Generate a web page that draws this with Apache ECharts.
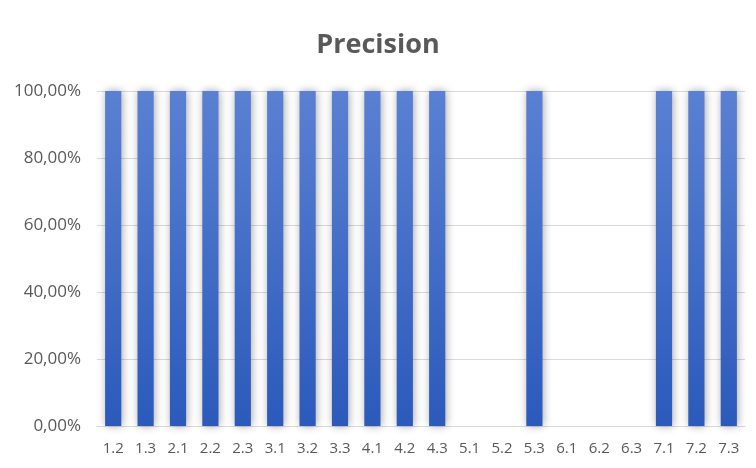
<!DOCTYPE html>
<html>
<head>
<meta charset="utf-8">
<script src="https://cdn.jsdelivr.net/npm/echarts@6/dist/echarts.min.js"></script>
<style>
html,body{margin:0;padding:0;background:#fff;}
#chart{width:756px;height:468px;}
</style>
</head>
<body>
<div id="chart"></div>
<script>
// Test case labels along the x axis
const categories = ['1.2','1.3','2.1','2.2','2.3','3.1','3.2','3.3','4.1','4.2','4.3','5.1','5.2','5.3','6.1','6.2','6.3','7.1','7.2','7.3'];
// Precision per case (fraction, 1 = 100%)
const precision = [1,1,1,1,1,1,1,1,1,1,1,0,0,1,0,0,0,1,1,1];
// Y axis bounds and step
const yMin = 0;
const yMax = 1;
const yStep = 0.2;

const fmtPct = v => (v * 100).toFixed(2).replace('.', ',') + '%';

const chart = echarts.init(document.getElementById('chart'));
chart.setOption({
  animation: false,
  backgroundColor: '#ffffff',
  title: {
    text: 'Precision',
    left: 'center',
    top: 27,
    textStyle: { fontFamily: 'Open Sans', fontSize: 27, fontWeight: 'bold', color: '#595959' }
  },
  grid: { left: 97, right: 11, top: 91, bottom: 42 },
  xAxis: {
    type: 'category',
    data: categories,
    axisLine: { lineStyle: { color: '#d9d9d9', width: 1 } },
    axisTick: { show: false },
    axisLabel: { color: '#595959', fontFamily: 'Open Sans', fontSize: 15, margin: 15, interval: 0 }
  },
  yAxis: {
    type: 'value',
    min: yMin,
    max: yMax,
    interval: yStep,
    axisLine: { show: false },
    axisTick: { show: false },
    splitLine: { lineStyle: { color: '#d9d9d9', width: 1 } },
    axisLabel: { color: '#595959', fontFamily: 'Open Sans', fontSize: 17, margin: 16, formatter: fmtPct }
  },
  series: [{
    type: 'bar',
    data: precision,
    barWidth: '50%',
    itemStyle: {
      color: new echarts.graphic.LinearGradient(0, 0, 0, 1, [
        { offset: 0, color: '#5a80d3' },
        { offset: 1, color: '#2b5abb' }
      ]),
      shadowColor: 'rgba(0,0,0,0.35)',
      shadowBlur: 8,
      shadowOffsetX: 1,
      shadowOffsetY: 0
    }
  }]
});
</script>
</body>
</html>
